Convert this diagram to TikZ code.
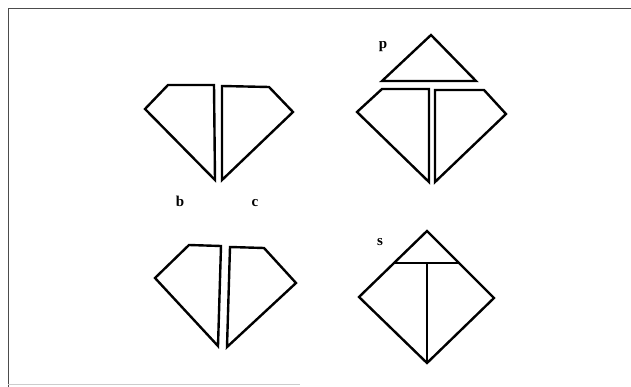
\documentclass[tikz,border=0pt]{standalone}
\usepackage{fontspec}
\setmainfont{Liberation Serif}
\begin{document}
\begin{tikzpicture}[x=1pt,y=-1pt,
  piece/.style={draw=black,line width=2.4pt,line join=miter},
  lbl/.style={font=\fontsize{15}{17}\selectfont\bfseries,inner sep=0pt},
  frame/.style={draw=black!70,line width=0.9pt}]
\useasboundingbox (0,0) rectangle (631,387);
\fill[white] (0,0) rectangle (631,387);
% frame
\draw[frame] (631,8) -- (8,8) -- (8,387);
\draw[draw=black!20,line width=0.8pt] (8,384) -- (300,384);
% top-left pair
\draw[piece] (145,109) -- (168,85) -- (214,85) -- (215,180) -- cycle;
\draw[piece] (222,86) -- (269,87) -- (293,112) -- (222,180) -- cycle;
% top-right group
\draw[piece] (431,35) -- (476,81) -- (382,81) -- cycle;
\draw[piece] (357,112) -- (382,89) -- (429,89) -- (429,182) -- cycle;
\draw[piece] (435,90) -- (484,90) -- (506,114) -- (435,182) -- cycle;
% bottom-left pair
\draw[piece] (155,278) -- (189,245) -- (221,246) -- (218,346) -- cycle;
\draw[piece] (230,247) -- (264,248) -- (296,283) -- (227,347) -- cycle;
% bottom-right
\draw[piece] (427,231) -- (494,298) -- (427,363) -- (359,297) -- cycle;
\draw[piece] (395,263) -- (460,263);
\draw[piece] (427,263) -- (427,363);
% labels
\node[lbl] (p) at (383,47) {p};
\node[lbl] (s) at (380,242) {s};
\node[lbl] (b) at (180,201) {b};
\node[lbl] (c) at (255,203) {c};
\end{tikzpicture}
\end{document}
